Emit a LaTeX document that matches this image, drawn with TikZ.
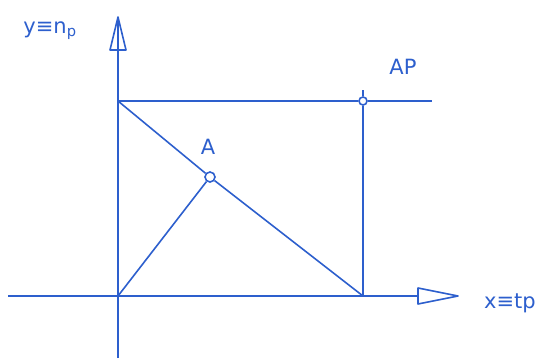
\documentclass[tikz,border=0pt]{standalone}
\usepackage{fontspec}
\setmainfont{DejaVu Sans}
\begin{document}
\begin{tikzpicture}[x=1pt,y=-1pt,
  pen/.style={draw=penblue,line width=1.6pt},
  lbl/.style={text=penblue,font=\fontsize{21}{23}\selectfont,inner sep=0pt},
  ring/.style={circle,draw=penblue,line width=1.6pt,minimum size=10pt,inner sep=0pt}]
\definecolor{penblue}{RGB}{45,95,205}
\useasboundingbox (0,0) rectangle (557,360);
% named points
\coordinate (O) at (118,296);
\coordinate (ybot) at (118,358);
\coordinate (ytop) at (118,17);
\coordinate (xleft) at (8,296);
\coordinate (xtip) at (458,296);
\coordinate (B) at (118,101);
\coordinate (C) at (363,296);
\coordinate (Hend) at (432,101);
\coordinate (Vtop) at (363,90);
\node[ring] (A) at (210,177) {};
\node[ring,minimum size=8pt] (AP) at (363,101) {};
% axes
\draw[pen] (ybot) -- (ytop);
\draw[pen] (xleft) -- (418,296);
% open arrow heads
\draw[pen,line join=round] (ytop) -- (110,50) -- (126,50) -- cycle;
\draw[pen,line join=round] (xtip) -- (418,288) -- (418,304) -- cycle;
% rectangle lines
\draw[pen] (B) -- (AP) -- (Hend);
\draw[pen] (Vtop) -- (AP) -- (C);
% diagonal and OA
\draw[pen] (B) -- (A) -- (C);
\draw[pen] (O) -- (A);
% labels
\node[lbl] (ly) at (50,31) {y≡n\textsubscript{p}};
\node[lbl] (lap) at (403,67) {AP};
\node[lbl] (la) at (208,147) {A};
\node[lbl] (lx) at (510,303) {x≡tp};
\end{tikzpicture}
\end{document}
